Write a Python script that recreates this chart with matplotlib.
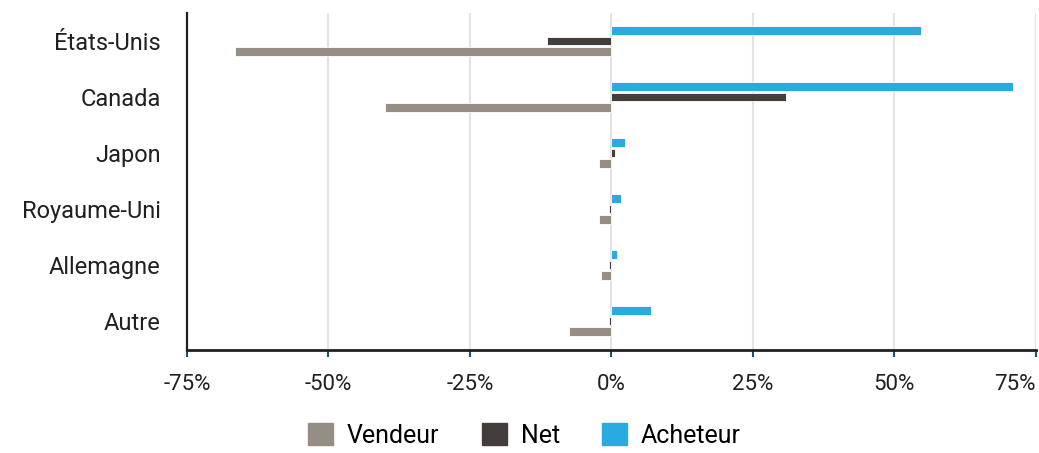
import numpy as np
import matplotlib
matplotlib.use('Agg')
import matplotlib.pyplot as plt
from matplotlib.patches import Patch
from matplotlib.ticker import FuncFormatter

#--data
pays     = ['États-Unis','Canada','Japon','Royaume-Uni','Allemagne','Autre']
vendeur  = [-66.5,-40.0,-2.2,-2.2,-1.8,-7.5]
net      = [-11.4, 30.8, 0.7,-0.4,-0.4,-0.4]
acheteur = [ 54.7, 71.0, 2.4, 1.7, 1.0, 7.0]
xticks   = [-75,-50,-25,0,25,50,75]

c_vend = '#968e84'
c_net  = '#433e3b'
c_ach  = '#29abe2'

plt.rcParams['font.family'] = ['Roboto','DejaVu Sans']

fig = plt.figure(figsize=(10.39,4.53),dpi=100)
ax = fig.add_axes([0.18,0.227,0.817,0.744])

y = np.arange(len(pays))
h = 0.155
off = 0.19
ax.barh(y-off,acheteur,height=h,color=c_ach,edgecolor='white',linewidth=0.6,zorder=3)
ax.barh(y    ,net     ,height=h,color=c_net,edgecolor='white',linewidth=0.6,zorder=3)
ax.barh(y+off,vendeur ,height=h,color=c_vend,edgecolor='white',linewidth=0.6,zorder=3)

ax.set_xlim(-75,75)
ax.set_ylim(5.52,-0.5)
ax.set_xticks(xticks)
ax.xaxis.set_major_formatter(FuncFormatter(lambda v,p:'%d%%'%v))
ax.set_yticks(y)
ax.set_yticklabels(pays)

ax.grid(axis='x',color='#e3e3e3',lw=1.5,zorder=0)
for s in ['top','right']: ax.spines[s].set_visible(False)
ax.spines['left'].set_color('#231f20')
ax.spines['bottom'].set_color('#231f20')
ax.spines['left'].set_linewidth(1.6)
ax.spines['bottom'].set_linewidth(2.0)

ax.tick_params(axis='y',length=0,labelsize=17,pad=19,labelcolor='#231f20')
ax.tick_params(axis='x',length=5,width=1.5,color='#1d5273',labelsize=16,pad=12,labelcolor='#231f20')
ax.get_xticklabels()[-1].set_horizontalalignment('right')

handles = [Patch(color=c_vend),Patch(color=c_net),Patch(color=c_ach)]
labels  = ['Vendeur','Net','Acheteur']
fig.legend(handles,labels,loc='lower center',bbox_to_anchor=(0.505,-0.038),ncol=3,frameon=False,
           prop={'size':18},handlelength=1.0,handleheight=1.0,
           handletextpad=0.55,columnspacing=1.7)

plt.savefig('out.png',dpi=100)
